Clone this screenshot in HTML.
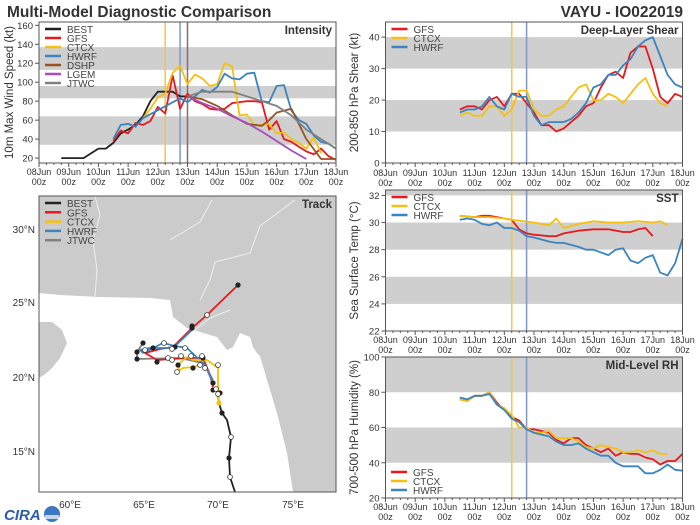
<!DOCTYPE html>
<html><head><meta charset="utf-8">
<style>
html,body{margin:0;padding:0;background:#fff;}
svg{display:block;font-family:"Liberation Sans","DejaVu Sans",sans-serif;}
</style></head>
<body>
<svg id="s" width="700" height="525" viewBox="0 0 700 525" xmlns="http://www.w3.org/2000/svg">
<text x="7" y="17" font-size="15.5" font-weight="bold" fill="#333">Multi-Model Diagnostic Comparison</text>
<text x="683" y="17" font-size="15.5" font-weight="bold" fill="#333" text-anchor="end">VAYU - IO022019</text>
<g id="g"></g>
</svg>
<script>
const NS="http://www.w3.org/2000/svg";const G=document.getElementById('g');
function el(t,a,txt){const e=document.createElementNS(NS,t);for(const k in a)e.setAttribute(k,a[k]);if(txt!==undefined)e.textContent=txt;G.appendChild(e);return e;}
const C={BEST:'#222',GFS:'#e8191c',CTCX:'#f5c010',HWRF:'#3a84c0',DSHP:'#9a5222',LGEM:'#a64dbf',JTWC:'#808080'};
function panel(o){
 const {L,R,T,B,ymin,ymax,bands,ticks,ylab,title,series,legend,legY,vlines,xlabY}=o;
 const X=d=>L+(R-L)*d/10, Y=v=>B-(B-T)*(v-ymin)/(ymax-ymin);
 bands.forEach(b=>{const y1=Y(Math.min(b[1],ymax)),y0=Y(Math.max(b[0],ymin));el('rect',{x:L,y:y1,width:R-L,height:y0-y1,fill:'#cfcfcf'});});
 vlines.forEach(v=>el('line',{x1:X(v[0]),x2:X(v[0]),y1:T,y2:B,stroke:v[1],'stroke-width':1.5}));
 for(const k in series){const pts=series[k].map(p=>X(p[0]).toFixed(1)+','+Y(p[1]).toFixed(1)).join(' ');
  el('polyline',{points:pts,fill:'none',stroke:C[k],'stroke-width':1.8,'stroke-linejoin':'round'});}
 el('rect',{x:L,y:T,width:R-L,height:B-T,fill:'none',stroke:'#555','stroke-width':1});
 ticks.forEach(t=>{el('line',{x1:L-4,x2:L,y1:Y(t),y2:Y(t),stroke:'#555'});el('text',{x:L-6,y:Y(t)+3.5,'font-size':9.5,fill:'#333','text-anchor':'end'},t);});
 for(let d=0;d<=10;d++){el('line',{x1:X(d),x2:X(d),y1:B,y2:B+4,stroke:'#555'});
  el('text',{x:X(d),y:xlabY,'font-size':9,fill:'#333','text-anchor':'middle'},String(8+d).padStart(2,'0')+'Jun');
  el('text',{x:X(d),y:xlabY+10,'font-size':9,fill:'#333','text-anchor':'middle'},'00z');}
 for(let d=0;d<10;d+=0.25){if(d%1)el('line',{x1:X(d),x2:X(d),y1:B,y2:B+2,stroke:'#555'});}
 el('text',{x:R-4,y:T+12,'font-size':11.5,'font-weight':'bold',fill:'#333','text-anchor':'end'},title);
 const yc=(T+B)/2, lx=o.ylx;
 el('text',{x:lx,y:yc,'font-size':11.5,fill:'#333','text-anchor':'middle',transform:`rotate(-90 ${lx} ${yc})`},ylab);
 legend.forEach((k,i)=>{const y=legY+i*9;el('line',{x1:L+6,x2:L+22,y1:y,y2:y,stroke:C[k],'stroke-width':2.5});el('text',{x:L+28,y:y+4,'font-size':10,fill:'#444'},k);});
}
const I={
BEST:[[.75,20],[1.5,20],[2,30],[2.25,30],[2.5,36],[2.75,46],[3,50],[3.25,55],[3.5,64],[3.75,80],[4,90],[4.25,90],[4.5,90],[4.75,85],[5,85]],
GFS:[[2.5,38],[2.75,49],[3,46],[3.25,57],[3.5,55],[3.75,59],[4,74],[4.25,67],[4.5,107],[4.75,72],[5,88],[5.25,80],[5.5,77],[5.75,72],[6,71],[6.25,72],[6.5,78],[6.75,79],[7,80],[7.25,80],[7.5,79],[7.75,50],[8,59],[8.25,40],[8.5,37],[8.75,32],[9,27],[9.25,24],[9.5,30],[9.75,22],[10,18]],
CTCX:[[3.5,62],[3.75,72],[4,84],[4.25,88],[4.5,110],[4.75,117],[5,98],[5.25,108],[5.5,104],[5.75,96],[6,98],[6.25,120],[6.5,117],[6.75,65],[7,66],[7.25,55],[7.5,55],[7.75,56],[8,46],[8.25,47],[8.5,40],[8.75,36],[9,30],[9.25,42],[9.5,25]],
HWRF:[[2.5,40],[2.75,55],[3,56],[3.25,53],[3.5,62],[4.75,83],[5,79],[5.25,85],[5.5,92],[5.75,89],[6,95],[6.25,109],[6.5,104],[6.75,103],[7,109],[7.25,110],[7.5,80],[7.75,79],[8,96],[8.25,97],[8.5,70],[8.75,60],[9,56],[9.25,44],[9.5,37],[9.75,35],[10,30]],
DSHP:[[5,85],[5.5,82],[6,75],[6.5,65],[7,56],[7.5,54],[7.75,60],[8,68],[8.5,72],[9,40],[9.5,19],[10,19]],
LGEM:[[5,85],[5.5,78],[6,72],[6.5,64],[7,57],[7.5,48],[8,38],[8.5,28],[9,19]],
JTWC:[[5,85],[5.5,90],[6,90],[6.5,90],[7,85],[7.5,80],[8,75],[8.5,65],[9,50],[9.5,40],[10,30]]};
panel({L:39,R:336,T:22,B:163,ymin:14.8,ymax:163.5,bands:[[34,64],[83,96],[113,137]],ticks:[20,40,60,80,100,120,140,160],ylab:'10m Max Wind Speed (kt)',ylx:13,title:'Intensity',series:I,legend:['BEST','GFS','CTCX','HWRF','DSHP','LGEM','JTWC'],legY:29,vlines:[[4.25,'#f5c842'],[4.75,'#7f97c4'],[5,'#8a6f6f']],xlabY:175});
const S={
GFS:[[2.5,17],[2.75,18],[3,18],[3.25,17],[3.5,20],[3.75,21],[4,18],[4.25,22],[4.5,22],[4.75,19],[5,16],[5.25,12],[5.5,12],[5.75,10],[6,11],[6.25,13],[6.5,15],[6.75,18],[7,19],[7.25,24],[7.5,28],[7.75,29],[8,27],[8.25,35],[8.5,37],[8.75,37],[9,30],[9.25,21],[9.5,19],[9.75,22],[10,21]],
CTCX:[[2.5,15],[2.75,16],[3,15],[3.25,15],[3.5,18],[3.75,18],[4,15],[4.25,17],[4.5,23],[4.75,23],[5,17],[5.25,15],[5.5,15],[5.75,17],[6,18],[6.25,21],[6.5,24],[6.75,25],[7,20],[7.25,20],[7.5,22],[7.75,21],[8,19],[8.25,22],[8.5,25],[8.75,27],[9,22],[9.25,19],[9.5,18]],
HWRF:[[2.5,16],[2.75,17],[3,17],[3.25,18],[3.5,21],[3.75,18],[4,17],[4.25,22],[4.5,21],[4.75,21],[5,15],[5.25,12],[5.5,13],[5.75,13],[6,13],[6.25,14],[6.5,16],[6.75,19],[7,24],[7.25,25],[7.5,28],[7.75,28],[8,31],[8.25,33],[8.5,37],[8.75,39],[9,40],[9.25,34],[9.5,28],[9.75,25],[10,24]]};
panel({L:385.5,R:682.5,T:22,B:163,ymin:0,ymax:44.8,bands:[[10,20],[30,40]],ticks:[0,10,20,30,40],ylab:'200-850 hPa Shear (kt)',ylx:358,title:'Deep-Layer Shear',series:S,legend:['GFS','CTCX','HWRF'],legY:29,vlines:[[4.25,'#f5c842'],[4.75,'#7f97c4']],xlabY:176});
const T={
GFS:[[2.5,30.5],[3,30.4],[3.25,30.5],[3.5,30.5],[4,30.3],[4.25,30.2],[4.5,29.5],[4.75,29.2],[5,29.1],[5.5,29.0],[5.75,29.0],[6,29.2],[6.5,29.4],[7,29.5],[7.5,29.5],[8,29.3],[8.25,29.3],[8.5,29.5],[8.75,29.6],[9,29.0]],
CTCX:[[2.5,30.5],[3,30.4],[3.5,30.4],[4,30.3],[4.25,30.2],[5,30.0],[5.25,29.9],[5.5,29.8],[5.75,30.3],[6,29.6],[6.5,29.9],[7,30.1],[7.5,30.0],[8,30.0],[8.5,30.1],[9,30.0],[9.25,30.1],[9.5,29.8]],
HWRF:[[2.5,30.2],[2.75,30.3],[3,30.2],[3.25,29.9],[3.5,29.8],[3.75,30.0],[4,29.6],[4.25,29.6],[4.5,29.4],[4.75,29.0],[5,28.9],[5.5,28.6],[5.75,28.5],[6,28.5],[6.5,28.2],[6.75,28.0],[7,28.0],[7.5,27.6],[7.75,28.0],[8,28.1],[8.25,27.2],[8.5,27.0],[8.75,27.4],[9,27.6],[9.25,26.3],[9.5,26.1],[9.75,27.0],[10,28.8]]};
panel({L:385.5,R:682.5,T:190,B:331,ymin:22,ymax:32.4,bands:[[24,26],[28,30],[32,33]],ticks:[22,24,26,28,30,32],ylab:'Sea Surface Temp (°C)',ylx:358,title:'SST',series:T,legend:['GFS','CTCX','HWRF'],legY:197,vlines:[[4.25,'#f5c842'],[4.75,'#7f97c4']],xlabY:343});
const H={
GFS:[[2.5,76],[2.75,75],[3,78],[3.25,78],[3.5,80],[3.75,74],[4,70],[4.25,66],[4.5,64],[4.75,59],[5,59],[5.25,58],[5.5,57],[5.75,53],[6,51],[6.25,54],[6.5,54],[6.75,50],[7,48],[7.25,46],[7.5,48],[7.75,44],[8,46],[8.25,45],[8.5,45],[8.75,43],[9,42],[9.25,39],[9.5,41],[9.75,41],[10,45]],
CTCX:[[2.5,76],[2.75,75],[3,78],[3.25,78],[3.5,80],[3.75,73],[4,71],[4.25,67],[4.5,60],[4.75,60],[5,57],[5.25,57],[5.5,58],[5.75,54],[6,54],[6.25,54],[6.5,52],[6.75,49],[7,48],[7.25,50],[7.5,49],[7.75,48],[8,46],[8.25,46],[8.5,47],[8.75,46],[9,47],[9.25,45],[9.5,45]],
HWRF:[[2.5,77],[2.75,76],[3,78],[3.25,78],[3.5,79],[3.75,73],[4,70],[4.25,65],[4.5,63],[4.75,59],[5,57],[5.25,56],[5.5,55],[5.75,52],[6,50],[6.25,50],[6.5,51],[6.75,48],[7,46],[7.25,44],[7.5,44],[7.75,40],[8,38],[8.25,38],[8.5,38],[8.75,34],[9,34],[9.25,36],[9.5,39],[9.75,36],[10,35.5]]};
panel({L:385.5,R:682.5,T:357,B:498,ymin:20,ymax:100,bands:[[40,60],[80,100]],ticks:[20,40,60,80,100],ylab:'700-500 hPa Humidity (%)',ylx:358,title:'Mid-Level RH',series:H,legend:[],legY:0,vlines:[[4.25,'#f5c842'],[4.75,'#7f97c4']],xlabY:510});
['GFS','CTCX','HWRF'].forEach((k,i)=>{const y=472+i*9;el('line',{x1:391,x2:407,y1:y,y2:y,stroke:C[k],'stroke-width':2.5});el('text',{x:413,y:y+4,'font-size':10,fill:'#444'},k);});
el('rect',{x:39,y:196,width:297,height:296,fill:'#fff'});
el('polygon',{points:'39,196 336,196 336,492 293,492 287,453 277,413 267,380 260,356 257,353 253,347 250,337 240,333 233,347 227,350 217,337 200,332 187,328 173,317 170,300 150,298 100,297 60,295 39,293',fill:'#cbcbcb'});
el('polygon',{points:'39,322 52,322 62,330 67,343 60,358 52,368 44,375 39,378',fill:'#cbcbcb'});
el('polyline',{points:'95,196 100,215 93,240 97,270 95,296',fill:'none',stroke:'#eee','stroke-width':1});
el('polyline',{points:'170,240 200,222 212,200',fill:'none',stroke:'#eee','stroke-width':1});
el('polyline',{points:'200,300 210,280 215,262 250,253 260,226 295,200',fill:'none',stroke:'#eee','stroke-width':1});
el('polyline',{points:'195,330 210,318 230,310',fill:'none',stroke:'#eee','stroke-width':1});
const tr={
JTWC:[[213,380],[203,363],[180,358],[137,359],[137,352],[143,343]],
BEST:[[235,492],[230,477],[229,458],[231,437],[227,420],[222,413],[219,403],[218,394],[216,388]],
GFS:[[213,387],[210,375],[203,358],[187,358],[157,360],[145,353],[160,349],[173,347],[192,328],[207,315],[238,285]],
HWRF:[[213,383],[205,365],[187,348],[175,346],[163,343],[153,348],[143,353],[140,350],[150,348],[173,348],[192,330]],
CTCX:[[219,403],[218,383],[218,368],[207,360],[193,360],[187,357],[180,363],[179,368],[177,372],[183,368],[193,367],[200,365]]};
for(const k in tr){el('polyline',{points:tr[k].map(p=>p.join(',')).join(' '),fill:'none',stroke:C[k],'stroke-width':1.8,'stroke-linejoin':'round'});}
[[238,285],[192,328],[192,326],[143,343],[137,352],[137,359],[153,348],[157,362],[175,347],[203,358],[213,383],[213,390],[220,393],[222,413],[229,458],[178,365],[193,368]].forEach(p=>el('circle',{cx:p[0],cy:p[1],r:2.6,fill:'#222'}));
[[207,315],[164,343],[145,350],[172,349],[185,348],[168,358],[172,360],[181,356],[191,356],[202,356],[200,365],[205,368],[218,365],[216,389],[218,394],[231,437],[230,477],[177,372]].forEach(p=>el('circle',{cx:p[0],cy:p[1],r:2.4,fill:'#fff',stroke:'#333','stroke-width':0.8}));
el('circle',{cx:219,cy:403,r:2.6,fill:'#f5c010'});
el('rect',{x:39,y:196,width:297,height:296,fill:'none',stroke:'#555'});
[[229,'30°N'],[302,'25°N'],[377,'20°N'],[451,'15°N']].forEach(t=>el('text',{x:35,y:t[0]+4,'font-size':10,fill:'#333','text-anchor':'end'},t[1]));
[[70,'60°E'],[144,'65°E'],[218,'70°E'],[293,'75°E']].forEach(t=>el('text',{x:t[0],y:508,'font-size':10,fill:'#333','text-anchor':'middle'},t[1]));
el('text',{x:332,y:208,'font-size':11.5,'font-weight':'bold',fill:'#333','text-anchor':'end'},'Track');
['BEST','GFS','CTCX','HWRF','JTWC'].forEach((k,i)=>{const y=203+i*9.3;el('line',{x1:45,x2:61,y1:y,y2:y,stroke:C[k],'stroke-width':2.5});el('text',{x:67,y:y+4,'font-size':10,fill:'#444'},k);});
el('text',{x:4,y:520,'font-size':15,'font-weight':'bold',fill:'#2a5ea8','font-style':'italic'},'CIRA');
el('circle',{cx:52,cy:514,r:8,fill:'#3b78c4'});
el('rect',{x:45,y:515,width:14,height:4,fill:'#fff',opacity:0.7});
</script>
</body></html>
